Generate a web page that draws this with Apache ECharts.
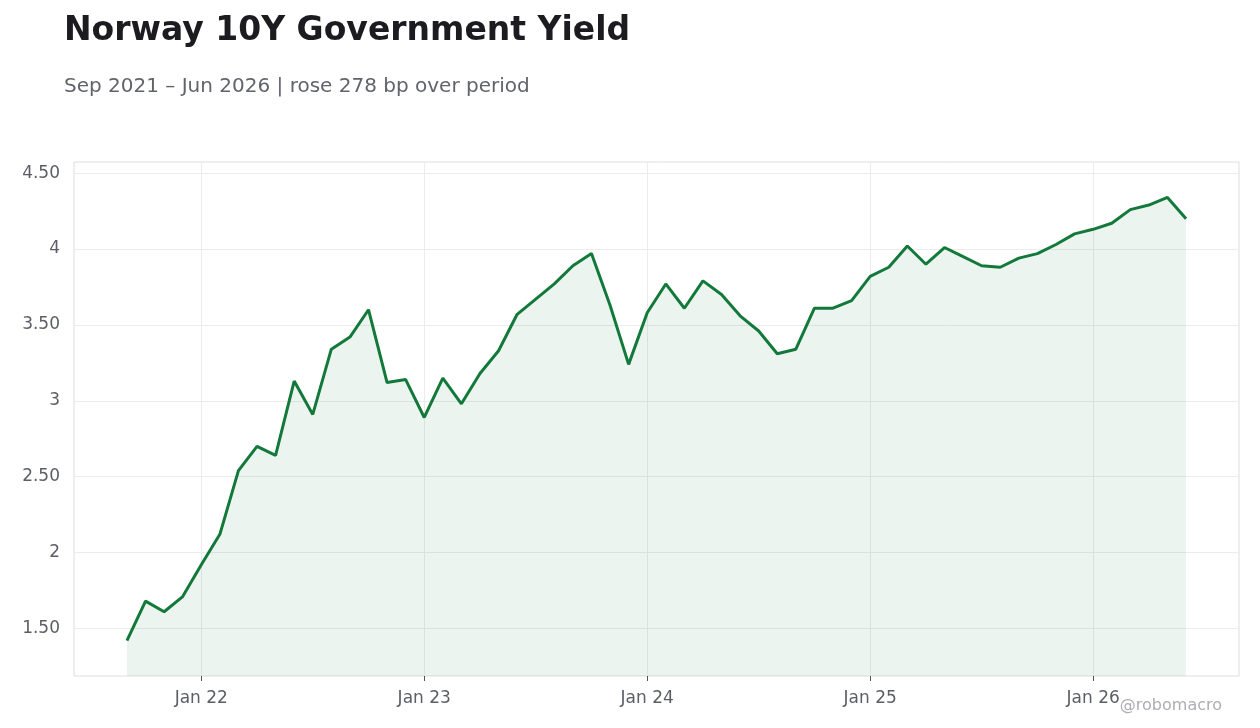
<!DOCTYPE html>
<html lang="en">
<head>
    <meta charset="UTF-8">
    <title>Norway 10Y Government Yield</title>
    <script src="https://cdn.jsdelivr.net/npm/echarts@6/dist/echarts.min.js"></script>
    <style>
        html, body { margin: 0; padding: 0; background: #fff; }
        #main { width: 1260px; height: 728px; }
    </style>
</head>
<body>
    <div id="main"></div>
    <script type="text/javascript">
        // monthly yields, Sep 2021 .. Jun 2026 (index 0 = Sep 2021)
        var yields = [1.42, 1.68, 1.61, 1.71, 1.92, 2.12, 2.54, 2.70, 2.64, 3.13,
            2.91, 3.34, 3.42, 3.60, 3.12, 3.14, 2.89, 3.15, 2.98, 3.18,
            3.33, 3.57, 3.67, 3.77, 3.89, 3.97, 3.63, 3.24, 3.58, 3.77,
            3.61, 3.79, 3.70, 3.56, 3.46, 3.31, 3.34, 3.61, 3.61, 3.66,
            3.82, 3.88, 4.02, 3.90, 4.01, 3.95, 3.89, 3.88, 3.94, 3.97,
            4.03, 4.10, 4.13, 4.17, 4.26, 4.29, 4.34, 4.20];
        var xTickPos = [4, 16, 28, 40, 52];
        var xTickLabels = ['Jan 22', 'Jan 23', 'Jan 24', 'Jan 25', 'Jan 26'];
        var yTicks = [1.5, 2, 2.5, 3, 3.5, 4, 4.5];

        var green = '#13793b';
        var points = yields.map(function (v, i) { return [i, v]; });

        var n = yields.length - 1;
        var lo = Math.min.apply(null, yields), hi = Math.max.apply(null, yields);
        var pad = (hi - lo) * 0.08;

        var gridLine = { color: '#ececec', width: 1, type: 'solid' };
        var marks = xTickPos.map(function (x) { return { xAxis: x }; })
            .concat(yTicks.map(function (y) { return { yAxis: y }; }));

        var myChart = echarts.init(document.getElementById('main'));
        myChart.setOption({
            animation: false,
            textStyle: { fontFamily: 'DejaVu Sans' },
            title: [{
                text: 'Norway 10Y Government Yield',
                left: 59, top: 10,
                textStyle: { fontSize: 33, fontWeight: 'bold', color: '#1b1b20', fontFamily: 'DejaVu Sans' }
            }, {
                text: 'Sep 2021 \u2013 Jun 2026 | rose 278 bp over period',
                left: 59, top: 72,
                textStyle: { fontSize: 20, fontWeight: 'normal', color: '#62646b', fontFamily: 'DejaVu Sans' }
            }],
            grid: {
                left: 74, right: 21, top: 162, bottom: 52,
                show: true, borderColor: '#dedede', borderWidth: 1
            },
            xAxis: {
                type: 'value',
                min: -0.05 * n, max: n * 1.05,
                axisLine: { show: false },
                splitLine: { show: false },
                axisTick: { show: true, customValues: xTickPos, length: 5, lineStyle: { color: '#555' } },
                axisLabel: {
                    customValues: xTickPos,
                    color: '#5c5e66', fontSize: 17, margin: 14,
                    formatter: function (v) { return xTickLabels[xTickPos.indexOf(v)]; }
                }
            },
            yAxis: {
                type: 'value',
                min: lo - pad, max: hi + pad,
                axisLine: { show: false },
                splitLine: { show: false },
                axisTick: { show: true, customValues: yTicks, length: 5, lineStyle: { color: '#555' } },
                axisLabel: {
                    customValues: yTicks,
                    color: '#5c5e66', fontSize: 17, margin: 14,
                    formatter: function (v) { return v % 1 === 0 ? String(v) : v.toFixed(2); }
                }
            },
            series: [{
                // grid lines only, kept underneath the yield line
                type: 'line',
                z: 1,
                data: [],
                markLine: {
                    z: 1,
                    silent: true,
                    symbol: 'none',
                    label: { show: false },
                    lineStyle: gridLine,
                    emphasis: { disabled: true },
                    data: marks
                }
            }, {
                type: 'line',
                z: 3,
                data: points,
                symbol: 'none',
                lineStyle: { color: green, width: 3 },
                itemStyle: { color: green },
                areaStyle: { color: green, opacity: 0.08 }
            }],
            graphic: [{
                type: 'text',
                right: 38, top: 698,
                style: { text: '@robomacro', fill: '#aeaeb2', fontSize: 16, fontFamily: 'DejaVu Sans' }
            }]
        });
    </script>
</body>
</html>
